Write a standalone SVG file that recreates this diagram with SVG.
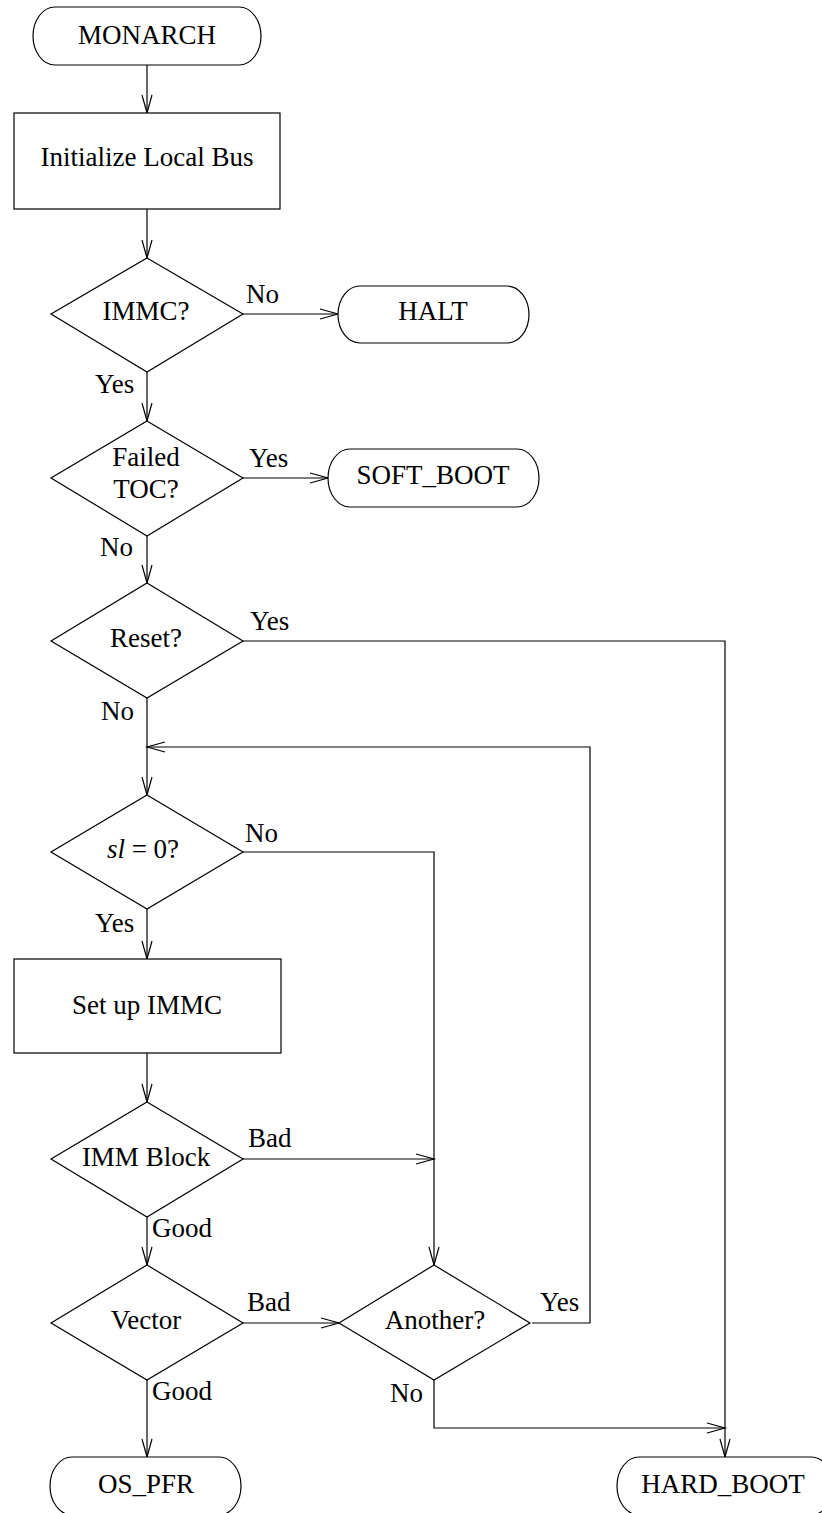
<svg xmlns="http://www.w3.org/2000/svg" width="822" height="1513" viewBox="0 0 822 1513">
<defs>
<style>
.s{fill:#fff;stroke:#000;stroke-width:1.2}
.c{fill:none;stroke:#000;stroke-width:1.2}
text{font-family:"Liberation Serif","Times New Roman",serif;font-size:27px;fill:#000}
.m{text-anchor:middle}
</style>
<marker id="a" markerUnits="userSpaceOnUse" markerWidth="24" markerHeight="14" viewBox="-20 -7 22 14" refX="0" refY="0" orient="auto" overflow="visible">
<path d="M-18,-5 L0,0 L-18,5" fill="none" stroke="#000" stroke-width="1.2"/>
</marker>
</defs>
<rect width="822" height="1513" fill="#fff"/>
<g id="connectors" class="c">
<path d="M147,65 V113" marker-end="url(#a)"/>
<path d="M147,209 V258" marker-end="url(#a)"/>
<path d="M243,314 H338" marker-end="url(#a)"/>
<path d="M147,372 V421" marker-end="url(#a)"/>
<path d="M243,478 H328" marker-end="url(#a)"/>
<path d="M147,536 V583" marker-end="url(#a)"/>
<path d="M243,641 H725 V1457" marker-end="url(#a)"/>
<path d="M147,698 V795" marker-end="url(#a)"/>
<path d="M532,1323 H590 V747 H147" marker-end="url(#a)"/>
<path d="M243,852 H434 V1265" marker-end="url(#a)"/>
<path d="M147,909 V959" marker-end="url(#a)"/>
<path d="M147,1053 V1102" marker-end="url(#a)"/>
<path d="M243,1159 H434" marker-end="url(#a)"/>
<path d="M147,1217 V1265" marker-end="url(#a)"/>
<path d="M243,1323 H339" marker-end="url(#a)"/>
<path d="M147,1380 V1457" marker-end="url(#a)"/>
<path d="M434,1380 V1428 H725" marker-end="url(#a)"/>
</g>
<g id="labels">
<text x="246" y="303">No</text>
<text x="95" y="393">Yes</text>
<text x="249" y="467">Yes</text>
<text x="100" y="556">No</text>
<text x="250" y="630">Yes</text>
<text x="101" y="720">No</text>
<text x="245" y="842">No</text>
<text x="95" y="932">Yes</text>
<text x="248" y="1147">Bad</text>
<text x="152" y="1237">Good</text>
<text x="247" y="1311">Bad</text>
<text x="540" y="1311">Yes</text>
<text x="152" y="1400">Good</text>
<text x="390" y="1402">No</text>
</g>
<g id="monarch"><rect class="s" x="33" y="7" width="228" height="58" rx="22" ry="29"/><text class="m" x="147" y="44">MONARCH</text></g>
<g id="init"><rect class="s" x="14" y="113" width="266" height="96"/><text class="m" x="147" y="166">Initialize Local Bus</text></g>
<g id="immc"><polygon class="s" points="147,258 243,314 147,372 51,314"/><text class="m" x="146" y="320">IMMC?</text></g>
<g id="halt"><rect class="s" x="338" y="286" width="191" height="57" rx="22" ry="28.5"/><text class="m" x="433" y="320">HALT</text></g>
<g id="failed"><polygon class="s" points="147,421 243,478 147,536 51,478"/><text class="m" x="146" y="466">Failed</text><text class="m" x="146" y="498">TOC?</text></g>
<g id="softboot"><rect class="s" x="328" y="449" width="211" height="58" rx="22" ry="29"/><text class="m" x="433" y="484">SOFT_BOOT</text></g>
<g id="reset"><polygon class="s" points="147,583 243,641 147,698 51,641"/><text class="m" x="146" y="647">Reset?</text></g>
<g id="sl"><polygon class="s" points="147,795 243,852 147,909 51,852"/><text class="m" x="143" y="858"><tspan font-style="italic">sl</tspan> = 0?</text></g>
<g id="setup"><rect class="s" x="14" y="959" width="267" height="94"/><text class="m" x="147" y="1014">Set up IMMC</text></g>
<g id="immblock"><polygon class="s" points="147,1102 243,1159 147,1217 51,1159"/><text class="m" x="146" y="1166">IMM Block</text></g>
<g id="vector"><polygon class="s" points="147,1265 243,1323 147,1380 51,1323"/><text class="m" x="146" y="1329">Vector</text></g>
<g id="another"><polygon class="s" points="434,1265 530,1323 434,1380 339,1323"/><text class="m" x="435" y="1329">Another?</text></g>
<g id="ospfr"><rect class="s" x="50" y="1457" width="191" height="58" rx="22" ry="29"/><text class="m" x="146" y="1493">OS_PFR</text></g>
<g id="hardboot"><rect class="s" x="617" y="1457" width="216" height="58" rx="22" ry="29"/><text class="m" x="723" y="1493">HARD_BOOT</text></g>
</svg>
